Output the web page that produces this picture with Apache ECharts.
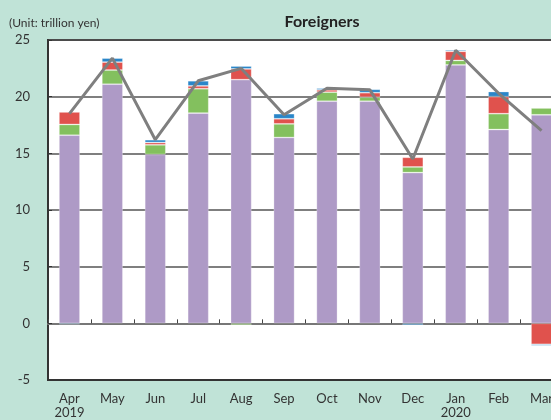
<!DOCTYPE html>
<html>
<head>
<meta charset="utf-8">
<script src="https://cdn.jsdelivr.net/npm/echarts@6/dist/echarts.min.js"></script>
<style>
  html, body { margin: 0; padding: 0; background: #c0e3d7; }
  #chart { width: 551px; height: 420px; }
</style>
</head>
<body>
<div id="chart"></div>
<script>
  // 单位: 兆円
  var months = ['Apr\n2019', 'May', 'Jun', 'Jul', 'Aug', 'Sep', 'Oct', 'Nov', 'Dec', 'Jan\n2020', 'Feb', 'Mar'];
  var purple = [16.6, 21.1, 14.9, 18.55, 21.5, 16.4, 19.6, 19.6, 13.3, 22.8, 17.1, 18.4];
  var green  = [0.95, 1.25, 0.85, 2.15, -0.15, 1.2, 0.8, 0.35, 0.5, 0.4, 1.4, 0.6];
  var red    = [1.1, 0.7, 0.2, 0.25, 0.95, 0.45, 0.2, 0.4, 0.85, 0.8, 1.5, -1.85];
  var blue   = [-0.1, 0.35, 0.25, 0.45, 0.25, 0.45, 0.15, 0.3, -0.15, 0.12, 0.45, -0.12];
  var total  = [18.5, 23.4, 16.2, 21.4, 22.5, 18.4, 20.75, 20.6, 14.5, 24.1, 20.3, 17.0];

  var font = 'Lato';
  var chart = echarts.init(document.getElementById('chart'));

  function barSeries(data, color) {
    return {
      type: 'bar',
      stack: 'total',
      xAxisIndex: 0,
      barWidth: '49%',
      itemStyle: { color: color, borderColor: 'rgba(255,255,255,0.35)', borderWidth: 0.8 },
      data: data
    };
  }

  var option = {
    backgroundColor: '#c0e3d7',
    animation: false,
    title: [
      { text: 'Foreigners', left: 317, top: 9, textAlign: 'center',
        textStyle: { fontFamily: font, fontSize: 16, fontWeight: 'bold', color: '#222' } },
      { text: '(Unit: trillion yen)', left: 4, top: 12,
        textStyle: { fontFamily: font, fontSize: 12, fontWeight: 'normal', color: '#333' } }
    ],
    grid: {
      left: 48, top: 40, width: 515, height: 340,
      outerBoundsMode: 'none', containLabel: false,
      show: true, backgroundColor: '#fff', borderColor: '#333', borderWidth: 2
    },
    xAxis: [
      {
        type: 'category', data: months, position: 'bottom',
        axisLine: { onZero: false, lineStyle: { color: '#333', width: 2 } },
        axisTick: { show: false },
        axisLabel: { fontFamily: font, fontSize: 13, color: '#333', margin: 12, lineHeight: 14 }
      },
      {
        type: 'category', data: months, position: 'bottom',
        axisLine: { onZero: true, lineStyle: { color: '#777', width: 2 } },
        axisTick: { show: true, inside: true, length: 4, lineStyle: { color: '#444' } },
        axisLabel: { show: false }
      }
    ],
    yAxis: {
      type: 'value', min: -5, max: 25, interval: 5,
      axisLine: { show: true, lineStyle: { color: '#333', width: 2 } },
      axisTick: { show: true, inside: true, length: 4, lineStyle: { color: '#333' } },
      axisLabel: { fontFamily: font, fontSize: 13, color: '#333', margin: 18 },
      splitLine: { show: true, lineStyle: { color: '#555', width: 1.5 } }
    },
    series: [
      barSeries(purple, '#ae9ac6'),
      barSeries(green, '#83c05e'),
      barSeries(red, '#e0524d'),
      barSeries(blue, '#2a86c9'),
      {
        type: 'line', xAxisIndex: 0, data: total, symbol: 'none', z: 5,
        lineStyle: { color: '#7f7f7f', width: 3 }
      }
    ]
  };

  chart.setOption(option);
</script>
</body>
</html>
